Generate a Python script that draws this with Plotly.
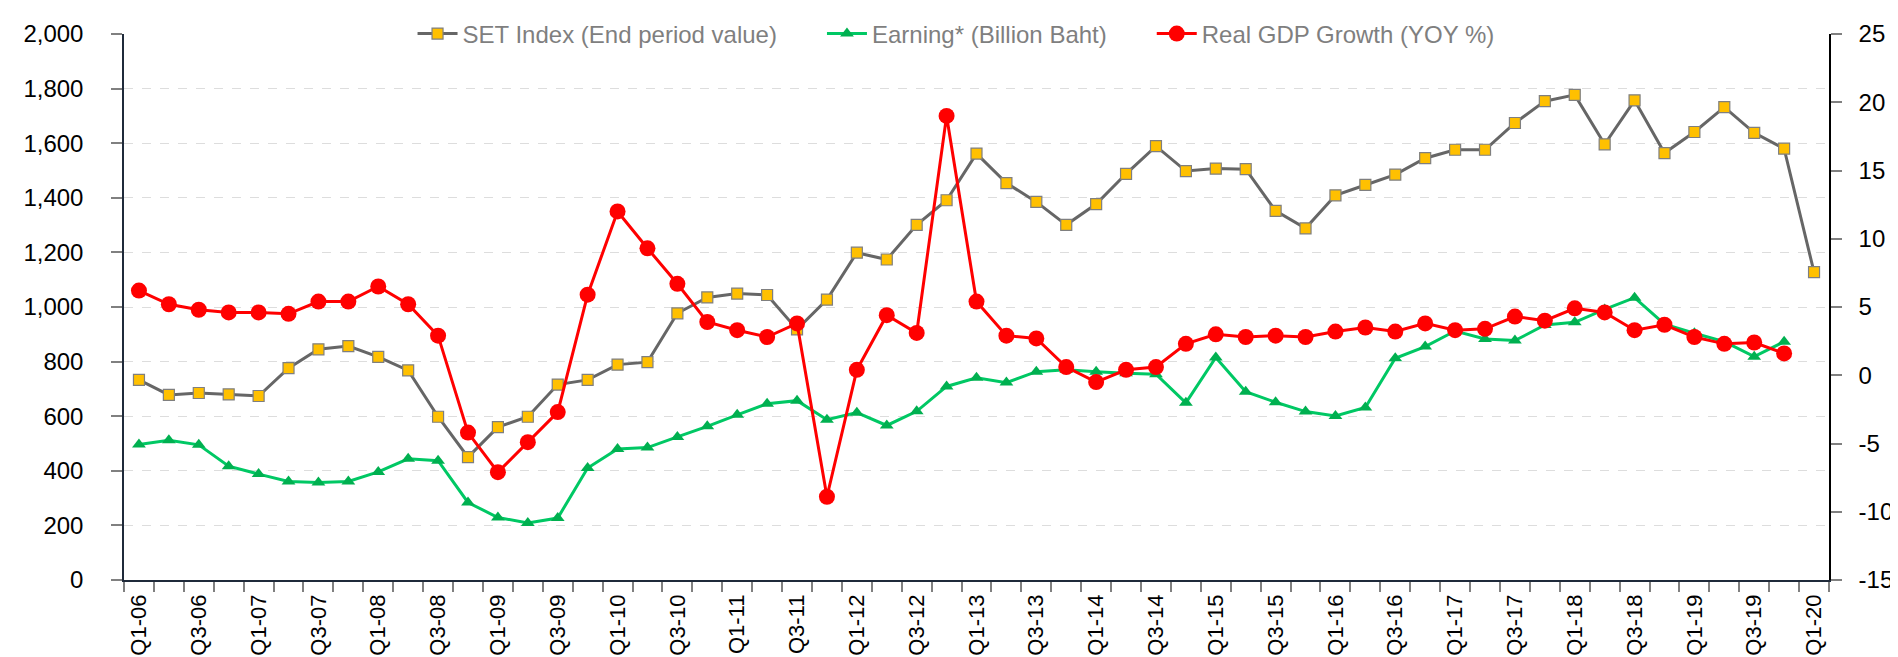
import plotly.graph_objects as go

years = ["06", "07", "08", "09", "10", "11", "12", "13", "14", "15", "16", "17", "18", "19"]
quarters = [f"Q{q}-{y}" for y in years for q in (1, 2, 3, 4)] + ["Q1-20"]
tick_labels = [c if c.startswith(("Q1", "Q3")) else "" for c in quarters]

right_ticks = [-15, -10, -5, 0, 5, 10, 15, 20, 25]
right_tick_text = ["-15", "-10", "-5", "0", "5", "10", "15", "20", "25"]

set_index = [733, 678, 685, 680, 674, 776, 845, 857, 817, 768,
             598, 450, 560, 598, 716, 733, 789, 798, 977, 1035,
             1049, 1044, 918, 1027, 1199, 1174, 1301, 1391, 1562, 1454,
             1385, 1301, 1377, 1488, 1589, 1498, 1507, 1505, 1352, 1288,
             1409, 1447, 1485, 1545, 1576, 1576, 1674, 1754, 1777, 1596,
             1757, 1564, 1641, 1732, 1638, 1580, 1128]

earning = [496, 512, 495, 417, 388, 361, 357, 361, 396, 444,
           437, 284, 229, 209, 227, 410, 480, 485, 524, 563,
           605, 646, 657, 587, 613, 566, 618, 709, 741, 723,
           763, 770, 763, 757, 754, 649, 815, 690, 651, 617,
           601, 632, 812, 855, 912, 883, 877, 934, 944, 991,
           1034, 937, 904, 873, 818, 873]

gdp_growth = [6.2, 5.2, 4.8, 4.6, 4.6, 4.5, 5.4, 5.4, 6.5, 5.2,
              2.9, -4.2, -7.1, -4.9, -2.7, 5.9, 12.0, 9.3, 6.7, 3.9,
              3.3, 2.8, 3.8, -8.9, 0.4, 4.4, 3.1, 19.0, 5.4, 2.9,
              2.7, 0.6, -0.5, 0.4, 0.6, 2.3, 3.0, 2.8, 2.9, 2.8,
              3.2, 3.5, 3.2, 3.8, 3.3, 3.4, 4.3, 4.0, 4.9, 4.6,
              3.3, 3.7, 2.8, 2.3, 2.4, 1.6]

FONT = "Liberation Sans, Arial, sans-serif"
GAP = "\u00a0" * 6

fig = go.Figure()
fig.add_trace(go.Scatter(
    x=quarters, y=set_index, name="SET Index (End period value)" + GAP,
    mode="lines+markers",
    line=dict(color="#666666", width=3),
    marker=dict(symbol="square", size=11, color="#FFC000",
                line=dict(color="#7F7F7F", width=1.2)),
))
fig.add_trace(go.Scatter(
    x=quarters[:len(earning)], y=earning, name="Earning* (Billion Baht)" + GAP,
    mode="lines+markers",
    line=dict(color="#00C864", width=3),
    marker=dict(symbol="triangle-up", size=12, color="#00B050"),
))
fig.add_trace(go.Scatter(
    x=quarters[:len(gdp_growth)], y=gdp_growth, name="Real GDP Growth (YOY %)",
    mode="lines+markers", yaxis="y2",
    line=dict(color="#FF0000", width=3),
    marker=dict(symbol="circle", size=16, color="#FF0000"),
))

fig.update_layout(
    width=1898, height=657,
    paper_bgcolor="white", plot_bgcolor="white",
    margin=dict(l=116, r=77, t=26, b=85, autoexpand=False),
    font=dict(family=FONT, size=22, color="black"),
    showlegend=True,
    legend=dict(orientation="h", x=0.488, xanchor="center", y=1.0, yanchor="middle",
                bgcolor="rgba(0,0,0,0)", font=dict(size=24, color="#7F7F7F"),
                traceorder="normal", itemwidth=40),
    xaxis=dict(
        type="category", categoryorder="array", categoryarray=quarters,
        tickmode="array", tickvals=quarters, ticktext=tick_labels,
        tickangle=-90, tickson="boundaries", ticks="outside", ticklen=10,
        tickcolor="#808080", tickwidth=1.5, ticklabelstandoff=4,
        showline=True, linecolor="#1F2A3A", linewidth=1.5,
        showgrid=False, zeroline=False, automargin=False,
        range=[-0.5, len(quarters) - 0.5],
        tickfont=dict(size=22),
    ),
    yaxis=dict(
        range=[0, 2000], dtick=200, tickformat=",d",
        ticks="outside", ticklen=11, tickcolor="#808080", tickwidth=1.5,
        ticklabelstandoff=23,
        showline=True, linecolor="#1F2A3A", linewidth=1.5,
        showgrid=True, gridcolor="#DDDDDD", griddash="dash", gridwidth=1,
        zeroline=False, automargin=False,
        tickfont=dict(size=24),
    ),
    yaxis2=dict(
        range=[-15, 25], overlaying="y", side="right",
        tickmode="array", tickvals=right_ticks, ticktext=right_tick_text,
        ticks="outside", ticklen=11, tickcolor="#808080", tickwidth=1.5,
        ticklabelstandoff=12,
        showline=True, linecolor="#000000", linewidth=1.5,
        showgrid=False, zeroline=False, automargin=False,
        tickfont=dict(size=24),
    ),
)

fig.write_html("out.html")
